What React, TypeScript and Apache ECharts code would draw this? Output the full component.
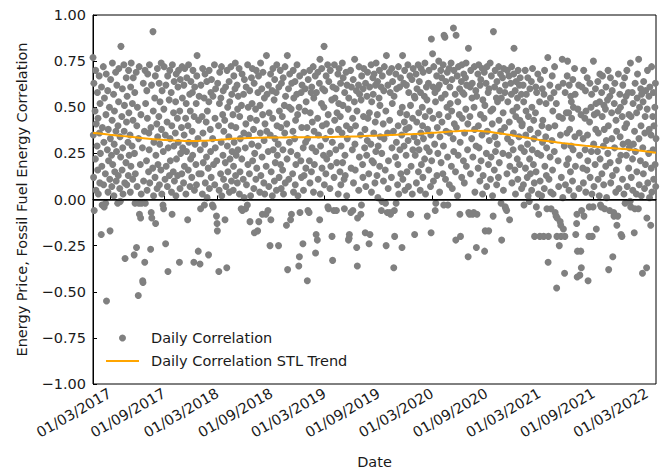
import React, { useEffect, useRef } from "react";
import * as echarts from "echarts";

// X tick labels (dd/mm/yyyy)
const tickLabels = [
  "01/03/2017", "01/09/2017", "01/03/2018", "01/09/2018", "01/03/2019", "01/09/2019",
  "01/03/2020", "01/09/2020", "01/03/2021", "01/09/2021", "01/03/2022",
];
const startDate = "02/01/2017";
const endDate = "01/04/2022";

// Daily correlation (hundredths), one value per business day, per year
const corr2017 = [
  77,35,12,63,-6,48,22,70,5,41, 29,58,16,44,3,67,36,9,52,25, -19,61,18,-3,39,72,8,31,-4,55,
  14,-2,46,68,-55,27,59,4,38,21, 50,11,-17,33,65,24,7,43,74,19, 57,2,30,48,15,69,37,10,26,62,
  -2,40,13,53,71,6,34,-1,23,83, 45,16,60,28,3,73,37,51,9,-32, 20,66,42,8,56,31,13,70,47,24,
  35,4,61,18,74,29,52,11,43,66, -30,25,58,-2,14,69,-26,40,7,50, -52,33,-2,72,-8,19,-10,46,3,-2,
  28,-44,-45,63,10,37,-34,70,-2,52, 21,59,5,44,68,15,36,27,73,9, -27,39,-7,62,-10,17,91,48,2,31,
  55,12,67,-13,24,41,6,71,34,19, 45,63,8,30,53,16,74,38,3,59, -3,26,-5,49,72,11,35,-24,62,18,
  42,7,67,-39,28,54,13,70,33,21, 58,4,40,-8,73,15,47,29,64,10, 36,53,2,68,22,44,13,61,31,70,
  -34,48,6,65,25,39,14,72,55,28, 9,62,35,18,71,44,3,52,26,66, -11,40,16,73,31,57,7,48,22,64,
  12,37,58,24,70,-34,45,5,61,30, 19,52,8,67,78,33,-28,43,14,56,
];
const corr2018 = [
  -35,27,-5,62,14,45,3,71,36,20, 55,-3,30,68,9,42,23,64,1,48, 17,-30,53,70,6,38,26,58,12,65,
  -3,33,56,-4,19,73,8,44,28,60, -9,21,-13,-17,63,40,-39,5,52,69, 14,55,31,72,2,46,24,59,11,37,
  43,-11,20,61,7,-37,70,29,50,15, 34,64,4,53,22,72,40,10,57,26, 46,5,18,67,31,60,74,13,39,24,
  62,9,49,27,56,71,3,45,15,33, -5,51,22,68,-6,11,57,36,1,65, 28,-5,41,61,8,-3,73,19,50,35,
  14,59,-12,44,2,66,30,52,71,21, 38,6,63,-18,25,49,11,70,43,17, -17,58,29,67,-12,4,51,36,74,13,
  60,23,-8,46,69,9,32,55,3,41, -8,18,78,37,57,-6,26,62,7,47, -25,35,68,-11,15,59,2,44,71,27,
  54,10,65,33,20,58,5,73,40,24, 30,-25,61,12,48,70,19,39,6,63, 45,16,27,66,3,51,36,72,9,56,
  -14,41,22,78,-38,60,11,50,31,68, -11,26,49,-8,63,14,37,70,4,55, 33,64,8,43,19,57,73,24,46,2,
  -36,50,-31,67,-7,21,58,12,39,62, -24,28,5,69,13,48,60,31,17,53,39,
];
const corr2019 = [
  -44,33,-6,65,-7,21,70,9,47,58, 15,61,28,42,72,4,55,37,19,67, -29,26,-19,58,-22,44,69,11,35,63,
  -11,76,3,29,52,71,17,40,60,24, 50,83,8,59,33,14,67,41,22,73, -4,46,-5,64,25,6,70,37,18,54,
  -20,31,-33,61,-6,12,73,43,55,27, 60,-6,20,47,68,3,38,52,71,15, 45,63,8,29,36,74,20,51,66,11,
  -5,58,24,13,69,40,2,62,33,49, -22,55,-21,-19,38,70,-7,17,61,27, 44,-6,65,9,53,76,30,16,40,59,
  -26,48,-36,-10,62,5,72,23,57,35, -8,54,-3,67,19,12,60,45,71,28, 38,-18,63,7,24,56,32,69,44,14,
  -24,47,61,-19,30,73,4,53,21,66, 57,20,36,68,9,42,62,26,74,13, 46,64,1,29,55,70,18,51,34,61,
  -6,25,-1,67,41,10,59,33,72,16, -2,48,-25,78,-7,36,62,6,21,69, 43,-7,58,-8,12,71,28,52,64,37,
  -37,56,-6,-20,23,68,-2,31,60,8, 19,40,72,3,61,27,47,66,14,35, -26,50,78,11,63,29,42,70,5,38,
  24,62,46,15,73,32,7,58,39,67, -8,51,-8,18,65,3,44,27,71,34,56,
];
const corr2020 = [
  -19,55,24,68,9,42,60,31,73,15, 47,27,64,5,58,36,71,19,50,40, 12,69,33,56,22,74,45,3,61,28,
  54,-9,38,63,16,70,26,48,7,35, -18,87,21,79,44,61,10,72,30,58, -6,53,-2,67,13,39,60,25,75,46,
  62,4,34,70,20,55,66,42,14,73, 29,-3,89,88,57,11,64,37,50,69, 23,-3,45,71,8,36,61,52,74,18,
  48,65,6,33,93,26,70,41,57,15, -22,89,39,67,2,53,24,72,46,60, -8,31,-20,64,12,73,44,58,21,68,
  57,9,36,66,49,74,18,62,27,41, -31,82,-7,-8,45,61,14,70,33,55, 63,-8,23,-7,50,72,38,4,59,29,
  -26,56,-8,68,17,40,73,28,10,62, 46,65,21,35,71,3,54,13,44,69, -28,51,-17,63,25,7,72,37,58,19,
  -17,60,32,74,11,48,23,67,41,2, 49,-9,91,16,61,34,70,26,55,8, 64,30,53,12,72,43,20,59,68,37,
  -2,55,-22,66,25,47,5,71,39,58, -4,62,-5,-6,14,70,33,53,24,67, 42,-11,18,63,31,57,72,9,48,27,
  36,68,82,16,59,3,45,64,50,22, 55,11,70,34,62,19,43,66,28,57,6,40,
];
const corr2021 = [
  41,62,8,53,-3,26,70,17,35,48, 57,12,30,66,2,45,-1,22,60,38, 14,64,5,50,27,71,19,43,33,9,
  -20,47,61,15,-4,58,25,68,36,3, -8,53,-20,10,65,24,2,40,60,31, 43,-20,57,6,70,18,34,52,13,28,
  -5,77,-34,-20,39,11,62,23,55,4, -5,32,67,16,48,3,58,26,72,40, -7,-9,52,-48,-20,-10,21,61,7,45,
  -25,-12,35,-14,-20,12,76,44,1,63, -16,29,-40,-20,58,8,47,19,36,67, 75,22,47,5,62,38,15,56,29,53,
  44,10,65,27,50,2,71,34,57,18, -19,-13,-8,-42,-28,49,62,6,36,24, -41,-28,46,-37,-6,61,17,33,9,70,
  -9,44,27,59,4,48,16,66,35,21, -44,-20,-4,42,63,12,50,26,57,3, -20,-4,75,30,7,46,19,60,38,52,
  -16,47,26,64,11,36,2,53,68,22, -3,-4,58,14,45,67,29,8,51,38, -5,49,18,61,32,1,54,25,70,40,
  -38,-6,56,20,66,9,47,33,59,13, -31,-7,-9,52,28,63,4,43,16,37, -14,-9,48,68,21,6,57,34,50,24,
  -19,-20,45,11,62,30,3,53,66,39, -2,56,24,41,70,7,31,58,17,46,28,
];
const corr2022 = [
  -1,74,-4,45,12,58,22,5,52,30, -18,37,-5,63,26,3,47,15,55,68, -5,76,33,8,50,21,60,40,2,57,
  -40,28,53,14,64,6,36,45,19,59, -37,-10,49,70,9,25,56,38,1,61, -14,35,17,72,4,45,27,58,11,40,
  50,19,63,7,33,
];

// STL trend, one value per month start (Jan 2017 .. Apr 2022)
const trend2017 = [0.360,0.356,0.351,0.346,0.341,0.336,0.331,0.327,0.323,0.320,0.318,0.317];
const trend2018 = [0.318,0.320,0.323,0.327,0.330,0.332,0.334,0.335,0.336,0.336,0.337,0.337];
const trend2019 = [0.337,0.337,0.338,0.339,0.340,0.341,0.343,0.345,0.347,0.349,0.351,0.353];
const trend2020 = [0.355,0.358,0.362,0.365,0.368,0.371,0.373,0.372,0.368,0.362,0.355,0.347];
const trend2021 = [0.339,0.331,0.323,0.316,0.309,0.303,0.297,0.292,0.287,0.283,0.279,0.275];
const trend2022 = [0.271,0.266,0.260,0.254];

const FONT = "DejaVu Sans";
const FS = 14.5;
const TEXT = "#1a1a1a";
const ORANGE = "#FFA500";
const DAY = 86400000;

function parseDMY(s: string): number {
  const [d, m, y] = s.split("/").map(Number);
  return Date.UTC(y, m - 1, d);
}

export default function App() {
  const ref = useRef<HTMLDivElement>(null);
  useEffect(() => {
    if (!ref.current) return;
    const chart = echarts.init(ref.current, undefined, { renderer: "svg" });
    const START = parseDMY(startDate);
    const END = parseDMY(endDate);

    const years: [number, number[]][] = [
      [2017, corr2017], [2018, corr2018], [2019, corr2019],
      [2020, corr2020], [2021, corr2021], [2022, corr2022],
    ];
    const scatter: [number, number][] = [];
    years.forEach(([yr, vals]) => {
      const days: number[] = [];
      for (let d = Date.UTC(yr, 0, 1); d < Date.UTC(yr + 1, 0, 1); d += DAY) {
        const wd = new Date(d).getUTCDay();
        if (wd !== 0 && wd !== 6 && d >= START && d <= END) days.push(d);
      }
      vals.forEach((v, i) => {
        const idx = Math.min(days.length - 1, Math.floor((i * days.length) / vals.length));
        scatter.push([days[idx], v / 100]);
      });
    });

    const trendVals = [...trend2017, ...trend2018, ...trend2019, ...trend2020, ...trend2021, ...trend2022];
    const trend: [number, number][] = trendVals.map((v, i) => {
      const t = Date.UTC(2017, i, 1);
      return [Math.min(END, Math.max(START, t)), v];
    });

    const tickValues = tickLabels.map(parseDMY);

    chart.setOption({
      animation: false,
      backgroundColor: "#ffffff",
      textStyle: { fontFamily: FONT },
      grid: {
        left: 93, right: 10, top: 15, bottom: 84,
        containLabel: false,
        outerBoundsMode: "none",
        show: true, borderColor: "#000", borderWidth: 1, backgroundColor: "transparent",
      },
      legend: {
        orient: "vertical",
        left: 106,
        top: 330,
        padding: 0,
        itemWidth: 33,
        itemHeight: 7,
        itemGap: 7,
        data: [
          { name: "Daily Correlation", icon: "circle" },
          {
            name: "Daily Correlation STL Trend",
            icon: "path://M0,0H33V2H0Z",
            itemStyle: { color: ORANGE, borderWidth: 0 },
          },
        ],
        textStyle: { fontFamily: FONT, fontSize: FS, color: TEXT, lineHeight: 16, padding: [0, 0, 0, 7] },
      },
      xAxis: {
        type: "value",
        min: START,
        max: END,
        name: "Date",
        nameLocation: "middle",
        nameGap: 70,
        nameTextStyle: { fontFamily: FONT, fontSize: FS, color: TEXT },
        splitLine: { show: false },
        axisLine: { show: true, lineStyle: { color: "#000", width: 1 } },
        axisTick: { show: true, inside: true, length: 4, lineStyle: { color: "#000" }, customValues: tickValues },
        axisLabel: {
          customValues: tickValues,
          rotate: 30,
          margin: 8,
          fontFamily: FONT,
          fontSize: FS,
          color: TEXT,
          formatter: (v: number) => {
            const i = tickValues.findIndex((t) => Math.abs(t - v) < DAY / 2);
            return i >= 0 ? tickLabels[i] : "";
          },
        },
      },
      yAxis: {
        type: "value",
        min: -1,
        max: 1,
        interval: 0.25,
        name: "Energy Price, Fossil Fuel Energy Correlation",
        nameLocation: "middle",
        nameGap: 64,
        nameTextStyle: { fontFamily: FONT, fontSize: FS, color: TEXT },
        splitLine: { show: false },
        axisLine: { show: true, lineStyle: { color: "#000", width: 1 } },
        axisTick: { show: true, inside: true, length: 4, lineStyle: { color: "#000" } },
        axisLabel: {
          margin: 7,
          fontFamily: FONT,
          fontSize: FS,
          color: TEXT,
          formatter: (v: number) => (v < 0 ? "\u2212" : "") + Math.abs(v).toFixed(2),
        },
      },
      series: [
        {
          name: "Daily Correlation",
          type: "scatter",
          data: scatter,
          symbolSize: 7,
          itemStyle: { color: "#808080", opacity: 1 },
          z: 2,
        },
        {
          name: "Daily Correlation STL Trend",
          type: "line",
          data: trend,
          symbol: "none",
          showSymbol: false,
          smooth: true,
          lineStyle: { color: ORANGE, width: 2 },
          itemStyle: { color: ORANGE },
          z: 3,
          markLine: {
            silent: true,
            symbol: ["none", "none"],
            label: { show: false },
            lineStyle: { color: "#000", width: 1.5, type: "solid" },
            data: [{ yAxis: 0 }],
            z: 4,
          },
        },
      ],
    });
    return () => chart.dispose();
  }, []);
  return <div ref={ref} style={{ position: "fixed", left: 0, top: 0, width: 666, height: 468 }} />;
}
